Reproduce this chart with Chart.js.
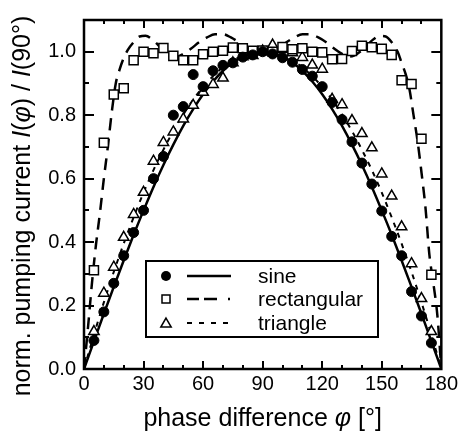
<!DOCTYPE html>
<html><head><meta charset="utf-8">
<script src="https://cdn.jsdelivr.net/npm/chart.js@4.4.0/dist/chart.umd.min.js"></script>
<style>html,body{margin:0;padding:0;background:#fff;}#wrap{width:461px;height:441px;}</style>
</head><body><div id="wrap"><canvas id="c" width="461" height="441"></canvas></div>
<script>
const FONT = "'Liberation Sans', Arial, Helvetica, sans-serif";

// measured points (phase difference in degrees)
const angles = [5,10,15,20,25,30,35,40,45,50,55,60,65,70,75,80,85,90,95,100,105,110,115,120,125,130,135,140,145,150,155,160,165,170,175];
const sineMeasured = [0.09,0.18,0.27,0.357,0.43,0.50,0.60,0.67,0.80,0.827,0.928,0.89,0.94,0.957,0.965,0.983,0.99,1.0,0.993,0.981,0.967,0.944,0.923,0.89,0.84,0.786,0.716,0.649,0.583,0.498,0.418,0.357,0.244,0.167,0.082];
const rectMeasured = [0.311,0.713,0.865,0.885,0.973,1.0,0.995,1.012,0.987,0.973,0.973,0.992,1.0,1.003,1.013,1.011,1.003,1.004,1.0,1.015,1.008,1.011,1.0,0.998,0.976,0.977,1.002,1.019,1.014,1.009,0.99,0.91,0.898,0.726,0.297];
const triMeasured = [0.118,0.239,0.321,0.415,0.487,0.557,0.655,0.714,0.747,0.788,0.831,0.872,0.897,0.917,0.965,0.984,0.988,1.002,1.021,1.007,0.997,0.982,0.958,0.945,0.85,0.833,0.783,0.742,0.697,0.615,0.545,0.448,0.332,0.222,0.118];

// model curves
const curveAngles = [0,5,10,15,20,25,30,35,40,45,50,55,60,65,70,75,80,85,90,95,100,105,110,115,120,125,130,135,140,145,150,155,160,165,170,175,180];
const sineCurve = [0,0.087,0.174,0.259,0.342,0.423,0.5,0.574,0.643,0.707,0.766,0.819,0.866,0.906,0.94,0.966,0.985,0.996,1.0,0.996,0.985,0.966,0.94,0.906,0.866,0.819,0.766,0.707,0.643,0.574,0.5,0.423,0.342,0.259,0.174,0.087,0];
const triCurve = [0,0.108,0.21,0.306,0.395,0.478,0.556,0.627,0.691,0.75,0.802,0.849,0.889,0.923,0.951,0.972,0.988,0.997,1.0,0.997,0.988,0.972,0.951,0.923,0.889,0.849,0.802,0.75,0.691,0.627,0.556,0.478,0.395,0.306,0.21,0.108,0];
const rectCurveAngles = [0,2,4,6,8,10,12,14,16,18,20,22,25,28,31,35,40,44,47,50,54,58,62,66,70,74,78,82,86,90,94,98,102,106,110,114,118,122,126,130,133,136,140,145,149,152,155,158,160,162,164,166,168,170,172,174,176,178,180];
const rectCurve = [0,0.13,0.27,0.39,0.49,0.60,0.70,0.81,0.90,0.945,0.98,1.005,1.03,1.048,1.05,1.035,1.005,0.988,0.985,0.993,1.01,1.03,1.045,1.055,1.055,1.045,1.03,1.015,1.003,1.0,1.003,1.015,1.03,1.045,1.055,1.055,1.045,1.03,1.01,0.993,0.985,0.988,1.005,1.035,1.05,1.048,1.03,1.0,0.965,0.93,0.88,0.80,0.72,0.62,0.51,0.36,0.27,0.17,0];

// axes
const xTickValues = [0,30,60,90,120,150,180];
const xMinorTicks = [10,20,30,40,50,60,70,80,90,100,110,120,130,140,150,160,170];
const yTickValues = [0,0.2,0.4,0.6,0.8,1.0];
const yTickLabels = ['0.0','0.2','0.4','0.6','0.8','1.0'];
const yMinorTicks = [0.1,0.2,0.3,0.4,0.5,0.6,0.7,0.8,0.9,1.0];
const seriesNames = ['sine','rectangular','triangle'];

const toXY = (xs, ys) => xs.map((x, i) => ({x: x, y: ys[i]}));

function drawTriangle(ctx, x, y, r) {
  ctx.beginPath();
  ctx.moveTo(x, y - r);
  ctx.lineTo(x + r * 0.866, y + r * 0.5);
  ctx.lineTo(x - r * 0.866, y + r * 0.5);
  ctx.closePath();
}

function drawMixed(ctx, parts, x, y) {
  // parts: [text, italic]
  let total = 0;
  const widths = parts.map(p => {
    ctx.font = (p[1] ? 'italic ' : '') + '25px ' + FONT;
    const w = ctx.measureText(p[0]).width; total += w; return w;
  });
  let cx = x - total / 2;
  parts.forEach((p, i) => {
    ctx.font = (p[1] ? 'italic ' : '') + '25px ' + FONT;
    ctx.fillText(p[0], cx, y);
    cx += widths[i];
  });
}

const framePlugin = {
  id: 'frame',
  afterDatasetsDraw(chart) {
    const ctx = chart.ctx, a = chart.chartArea, xs = chart.scales.x, ys = chart.scales.y;
    ctx.save();
    ctx.strokeStyle = '#000';
    ctx.lineWidth = 2;
    ctx.beginPath();
    xMinorTicks.forEach(v => {
      const px = Math.round(xs.getPixelForValue(v));
      const len = (v % 30 === 0) ? 8 : 4;
      ctx.moveTo(px, a.bottom); ctx.lineTo(px, a.bottom - len);
      ctx.moveTo(px, a.top); ctx.lineTo(px, a.top + len);
    });
    yMinorTicks.forEach((v, i) => {
      const py = Math.round(ys.getPixelForValue(v));
      const len = (i % 2 === 1) ? 10 : 5;
      ctx.moveTo(a.left, py); ctx.lineTo(a.left + len, py);
      ctx.moveTo(a.right, py); ctx.lineTo(a.right - len, py);
    });
    ctx.stroke();
    ctx.lineWidth = 2.5;
    ctx.strokeRect(a.left, a.top, a.right - a.left, a.bottom - a.top);
    ctx.restore();
  },
  afterDraw(chart) {
    const ctx = chart.ctx, a = chart.chartArea;
    ctx.save();
    // axis titles
    ctx.fillStyle = '#000';
    ctx.textBaseline = 'alphabetic';
    ctx.textAlign = 'left';
    drawMixed(ctx, [['phase difference ', false], ['\u03C6', true], [' [\u00B0]', false]], (a.left + a.right) / 2, 426);
    ctx.save();
    ctx.translate(30, 206);
    ctx.rotate(-Math.PI / 2);
    drawMixed(ctx, [['norm. pumping current ', false], ['I', true], ['(', false], ['\u03C6', true], [') / ', false], ['I', true], ['(90\u00B0)', false]], 0, 0);
    ctx.restore();

    // legend
    const bx = 146, by = 261, bw = 232, bh = 76;
    ctx.fillStyle = '#fff';
    ctx.fillRect(bx, by, bw, bh);
    ctx.strokeStyle = '#000';
    ctx.lineWidth = 2;
    ctx.strokeRect(bx, by, bw, bh);
    const rows = [276, 299, 323];
    const dashes = [[], [12, 5, 13, 11, 2, 40], [5, 7]];
    rows.forEach((ry, i) => {
      ctx.strokeStyle = '#000';
      ctx.lineWidth = 1.5;
      if (i === 0) {
        ctx.fillStyle = '#000';
        ctx.beginPath(); ctx.arc(166, ry, 5, 0, Math.PI * 2); ctx.fill();
      } else if (i === 1) {
        ctx.fillStyle = '#fff';
        ctx.fillRect(162, ry - 4, 8, 8); ctx.strokeRect(162, ry - 4, 8, 8);
      } else {
        ctx.fillStyle = '#fff';
        drawTriangle(ctx, 166, ry + 1, 6); ctx.fill(); ctx.stroke();
      }
      ctx.lineWidth = i === 2 ? 2 : 2.5;
      ctx.setLineDash(dashes[i]);
      ctx.beginPath(); ctx.moveTo(187, ry); ctx.lineTo(231, ry); ctx.stroke();
      ctx.setLineDash([]);
      ctx.fillStyle = '#000';
      ctx.font = '21px ' + FONT;
      ctx.textBaseline = 'middle';
      ctx.textAlign = 'left';
      ctx.fillText(seriesNames[i], 258, ry + 1);
    });
    ctx.restore();
  }
};

const tickFont = {family: FONT, size: 20};

new Chart(document.getElementById('c'), {
  type: 'scatter',
  data: {
    datasets: [
      {label: seriesNames[0], data: toXY(angles, sineMeasured), pointStyle: 'circle', pointRadius: 5, backgroundColor: '#000', borderColor: '#000', borderWidth: 1, order: 0},
      {label: seriesNames[1], data: toXY(angles, rectMeasured), pointStyle: 'rect', pointRadius: 6.4, backgroundColor: '#fff', borderColor: '#000', borderWidth: 1.5, order: 0},
      {label: seriesNames[2], data: toXY(angles, triMeasured), pointStyle: 'triangle', pointRadius: 6, backgroundColor: '#fff', borderColor: '#000', borderWidth: 1.5, order: 0},
      {label: 'sine model', data: toXY(curveAngles, sineCurve), showLine: true, pointRadius: 0, borderColor: '#000', borderWidth: 2.5, cubicInterpolationMode: 'monotone', order: 1},
      {label: 'rectangular model', data: toXY(rectCurveAngles, rectCurve), showLine: true, pointRadius: 0, borderColor: '#000', borderWidth: 2.5, borderDash: [12, 8], cubicInterpolationMode: 'monotone', order: 1},
      {label: 'triangle model', data: toXY(curveAngles, triCurve), showLine: true, pointRadius: 0, borderColor: '#000', borderWidth: 2, borderDash: [5, 6], cubicInterpolationMode: 'monotone', order: 1}
    ]
  },
  options: {
    responsive: false,
    animation: false,
    devicePixelRatio: 1,
    layout: {padding: {left: 0, top: 13, right: 19, bottom: 0}},
    plugins: {legend: {display: false}, tooltip: {enabled: false}},
    scales: {
      x: {
        type: 'linear', min: 0, max: 180,
        afterFit(s) { s.height = 72; },
        afterBuildTicks(s) { s.ticks = xTickValues.map(v => ({value: v})); },
        grid: {display: false, drawTicks: false},
        border: {display: false},
        ticks: {font: tickFont, color: '#000', padding: 3, maxRotation: 0, autoSkip: false, callback: v => String(v)}
      },
      y: {
        type: 'linear', min: 0, max: 1.1,
        afterFit(s) { s.width = 84; },
        afterBuildTicks(s) { s.ticks = yTickValues.map(v => ({value: v})); },
        grid: {display: false, drawTicks: false},
        border: {display: false},
        ticks: {font: tickFont, color: '#000', padding: 8, autoSkip: false, callback: (v, i) => yTickLabels[i]}
      }
    }
  },
  plugins: [framePlugin]
});
</script>
</body></html>
